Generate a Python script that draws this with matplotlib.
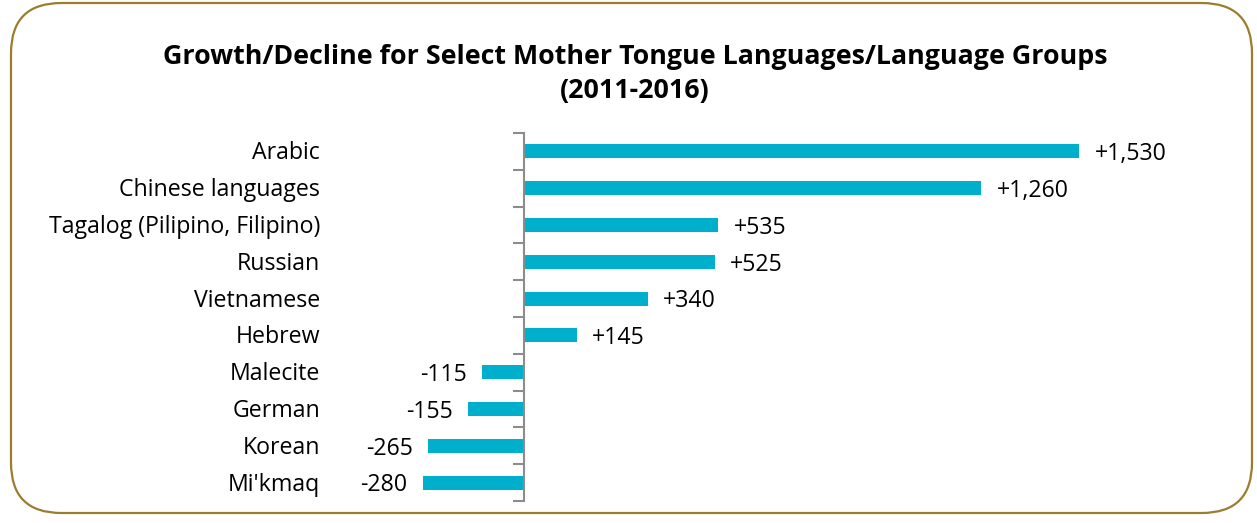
import matplotlib
matplotlib.use("Agg")
import matplotlib.pyplot as plt
from matplotlib.patches import FancyBboxPatch
from matplotlib.transforms import blended_transform_factory, offset_copy

# Data
languages = ["Arabic", "Chinese languages", "Tagalog (Pilipino, Filipino)", "Russian",
             "Vietnamese", "Hebrew", "Malecite", "German", "Korean", "Mi'kmaq"]
changes = [1530, 1260, 535, 525, 340, 145, -115, -155, -265, -280]
value_labels = ["+1,530", "+1,260", "+535", "+525", "+340", "+145", "-115", "-155", "-265", "-280"]

title = "Growth/Decline for Select Mother Tongue Languages/Language Groups\n(2011-2016)"
bar_color = "#00AFCC"
border_color = "#9B7D2C"

plt.rcParams["font.family"] = ["Open Sans", "DejaVu Sans"]

W, H = 1257, 523
fig = plt.figure(figsize=(W / 100, H / 100), dpi=100)

# rounded frame around the whole chart
frame = FancyBboxPatch((11 / W, 10 / H), (1252 - 11) / W, (520 - 10) / H,
                       boxstyle="round,pad=0,rounding_size=0.04",
                       transform=fig.transFigure, facecolor="none",
                       edgecolor=border_color, linewidth=1.6,
                       mutation_aspect=W / H)
fig.patches.append(frame)

ax = fig.add_axes([379 / W, 1 - 501 / H, (1141 - 379) / W, (501 - 133) / H])

ypos = list(range(len(languages)))
ax.barh(ypos, changes, height=0.38, color=bar_color)
ax.set_xlim(-400, 1700)
ax.set_ylim(len(languages) - 0.5, -0.5)

# vertical axis at zero with ticks between categories
for s in ["top", "right", "bottom"]:
    ax.spines[s].set_visible(False)
ax.spines["left"].set_position(("data", 0))
ax.spines["left"].set_color("#8C8C8C")
ax.spines["left"].set_linewidth(1.5)
ax.set_yticks([i - 0.5 for i in range(len(languages) + 1)])
ax.set_yticklabels([])
ax.tick_params(axis="y", direction="out", length=8, width=1.5, color="#8C8C8C")
ax.set_xticks([])

# category labels at the left (slightly below bar centre, like the original)
trans = blended_transform_factory(fig.transFigure, ax.transData)
trans = offset_copy(trans, fig=fig, x=0, y=-1.5, units="points")
for y, lab in zip(ypos, languages):
    ax.text(320 / W, y, lab, transform=trans, ha="right", va="center", fontsize=16.7)

# value labels next to bar ends
for y, v, lab in zip(ypos, changes, value_labels):
    if v >= 0:
        ax.annotate(lab, (v, y), xytext=(11, -2), textcoords="offset points",
                    ha="left", va="center", fontsize=16.7)
    else:
        ax.annotate(lab, (v, y), xytext=(-11, -2), textcoords="offset points",
                    ha="right", va="center", fontsize=16.7)

fig.text(635 / W, 1 - 74 / H, title, ha="center", va="center",
         fontsize=19.3, fontweight="bold", linespacing=1.4)

fig.savefig("out.png", dpi=100)
